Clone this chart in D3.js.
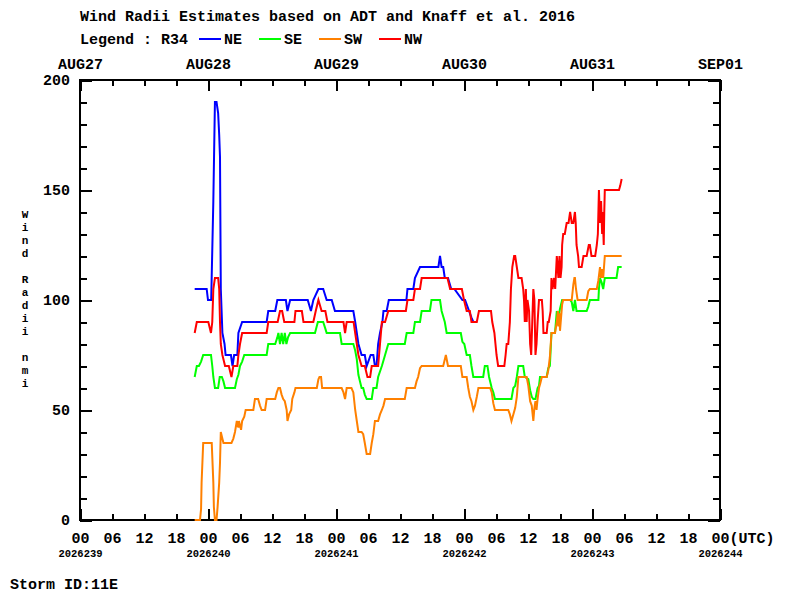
<!DOCTYPE html>
<html>
<head>
<meta charset="utf-8">
<script src="https://cdn.jsdelivr.net/npm/d3@7"></script>
<style>
  html, body { margin: 0; padding: 0; background: #fff; }
  svg { display: block; }
  text { font-family: "Liberation Mono", "DejaVu Sans Mono", monospace; font-weight: bold; fill: #000; }
</style>
</head>
<body>
<svg id="chart" width="800" height="600"></svg>
<script>
// ---------------- DATA (hours since AUG27 00 UTC, radii in nmi) ----------------
const titleText = "Wind Radii Estimates based on ADT and Knaff et al. 2016";
const legendTitle = "Legend : R34";
const seriesNames = ["NE", "SE", "SW", "NW"];
const seriesColors = ["#0000ff", "#00ff00", "#ff8000", "#ff0000"];
const dayLabels = ["AUG27", "AUG28", "AUG29", "AUG30", "AUG31", "SEP01"];
const julianLabels = ["2026239", "2026240", "2026241", "2026242", "2026243", "2026244"];
const yTickLabels = [0, 50, 100, 150, 200];
const yAxisTitle = "Wind Radii nmi";
const stormLabel = "Storm ID:11E";

const neHours = [21.5,23.75,24.0,24.6,25.0,25.3,25.6,25.9,26.1,26.25,26.4,26.7,27.1,27.3,28.3,28.6,28.9,29.5,29.7,30.4,35.0,35.3,36.6,37.0,38.6,38.9,39.4,42.7,43.3,43.75,44.7,45.6,46.25,47.2,47.8,51.25,51.6,51.9,52.2,52.8,53.4,53.75,54.5,55.0,55.3,55.6,55.9,56.25,56.7,56.9,57.5,57.9,61.2,61.4,62.5,62.8,63.75,67.2,67.5,67.8,68.1,68.4,69.0,69.6,70.2,71.7,72.2,73.4,73.75,74.4];
const neValues = [105,105,100,100,145,190,190,185,175,165,105,85,80,75,75,70,75,75,85,90,90,95,95,100,100,95,100,100,95,100,105,105,100,100,95,95,90,85,80,75,75,70,75,75,70,70,80,85,90,95,95,100,100,105,105,110,115,115,120,115,115,110,110,105,105,100,100,92,90,90];

const seHours = [21.5,21.9,22.3,22.7,23.1,24.56,24.8,25.0,25.3,25.9,26.2,26.6,26.9,27.2,29.06,29.4,29.7,30.0,30.4,30.8,35.0,35.3,36.6,37.0,37.2,37.5,37.8,38.1,38.4,38.7,39.0,39.4,44.06,44.6,45.6,46.0,46.25,48.75,49.06,51.25,51.6,51.9,52.2,52.5,52.8,53.1,53.4,53.75,54.7,55.0,55.6,55.9,56.6,57.2,57.8,60.9,61.25,62.5,62.8,63.75,64.06,65.6,65.9,67.5,67.8,68.4,68.75,71.4,71.7,72.06,72.5,73.1,73.4,73.75,75.6,75.9,76.4,76.7,77.2,77.5,77.8,80.9,81.25,81.6,81.9,82.2,83.1,83.4,84.06,84.4,84.7,85.0,85.4,85.8,86.06,86.25,87.5,87.8,88.1,88.4,89.06,89.4,89.7,90.0,90.4,91.9,92.2,92.5,92.8,93.1,95.0,95.3,95.6,97.2,97.3,97.5,97.8,98.1,98.4,100.6,100.9,101.56];
const seValues = [65,70,70,72,75,75,70,65,60,60,65,65,63,60,60,64,66,70,72,75,75,80,80,83,85,80,85,80,85,80,83,85,85,90,90,87,85,85,80,80,77,73,66,63,60,60,57,55,55,60,60,65,70,75,80,80,85,85,90,90,95,95,100,100,95,90,85,85,81,80,75,75,70,65,65,70,70,65,60,58,55,55,60,61,65,70,70,65,64,59,56,55,55,60,61,65,65,69,70,85,85,95,92,96,100,100,99,95,100,95,95,97,100,100,105,110,108,105,110,110,115,115];

const swHours = [21.5,22.5,22.7,22.8,23.1,24.7,25.0,25.1,25.3,25.6,25.8,26.1,26.25,26.4,26.6,26.9,28.4,28.75,29.06,29.4,29.7,29.8,30.2,30.4,30.8,31.06,32.5,32.8,33.4,33.75,34.06,34.7,35.0,36.6,36.9,37.2,37.5,37.8,38.1,38.4,38.75,38.9,39.2,39.6,39.8,40.2,40.4,44.4,44.7,44.9,45.2,45.4,49.06,49.4,49.7,50.0,50.9,51.25,51.6,51.9,52.2,52.8,53.1,53.4,53.75,54.4,54.7,55.0,55.3,55.9,56.25,56.6,56.9,57.2,60.9,61.25,62.8,63.1,63.4,63.75,64.06,68.1,68.6,69.0,71.4,71.7,72.5,72.8,73.1,73.4,73.75,74.06,74.4,74.7,76.9,77.2,77.5,77.8,80.3,80.6,80.9,81.25,81.6,81.9,82.2,83.75,84.06,84.4,84.7,85.0,85.2,85.4,85.6,85.8,86.06,86.3,86.6,87.5,87.8,88.1,88.4,89.06,89.4,89.6,89.7,89.9,90.0,90.2,90.4,90.6,92.2,92.5,92.7,92.8,93.0,93.3,95.0,95.3,95.6,96.9,97.2,97.5,97.7,97.9,98.1,98.4,101.56];
const swValues = [0,0,5,17,35,35,17,6,0,0,6,17,26,40,38,35,35,37,40,45,42,45,41,45,47,50,50,55,55,52,50,50,55,55,58,60,60,57,55,54,50,45,48,50,55,58,60,60,64,65,65,60,60,58,55,60,60,58,50,45,40,40,39,35,30,30,35,39,45,45,48,50,52,55,55,60,60,63,65,69,70,70,75,70,70,65,65,60,56,54,50,52,56,60,60,58,53,50,50,48,45,48,51,56,65,65,61,54,52,45,51,54,50,55,60,62,65,65,68,74,85,85,90,95,88,94,86,92,98,100,100,107,110,110,105,100,100,104,105,105,109,115,110,114,110,120,120];

const nwHours = [21.5,21.9,24.06,24.56,24.8,25.0,25.3,25.9,26.1,26.25,26.4,26.7,27.2,27.9,28.4,28.75,29.5,29.7,30.0,30.4,35.0,35.3,37.06,37.5,37.9,38.3,40.2,40.4,41.6,41.9,43.75,44.2,44.7,45.3,46.0,46.4,49.4,49.7,50.0,51.3,51.6,51.9,52.2,52.8,53.4,53.9,54.4,54.7,55.9,56.25,56.6,57.2,57.8,61.1,61.4,62.5,62.8,63.75,64.06,68.9,69.4,71.6,72.0,72.5,73.1,73.4,74.4,74.8,77.06,77.3,77.7,77.9,78.1,78.4,79.56,79.8,80.0,80.3,80.6,80.8,81.06,81.4,81.6,81.9,82.2,82.8,83.1,83.25,83.4,83.6,83.75,83.9,84.2,84.4,84.6,84.8,85.0,85.2,85.4,85.6,85.8,86.06,86.6,86.75,86.9,87.5,87.7,87.9,88.25,88.4,88.6,88.9,89.1,89.4,89.7,89.9,90.1,90.3,90.4,90.6,90.9,91.25,91.6,91.9,92.2,92.5,92.8,92.95,93.1,93.4,93.56,94.06,94.4,95.0,95.4,95.6,95.9,96.6,96.9,97.1,97.3,97.5,97.7,97.9,98.0,98.2,98.3,98.4,101.06,101.3,101.56];
const nwValues = [85,90,90,85,90,105,110,110,105,90,80,75,70,70,65,70,70,75,80,85,85,90,90,95,95,90,90,95,95,90,90,95,100,95,95,90,90,85,90,90,85,80,75,70,70,65,65,70,70,80,90,90,95,95,100,100,105,105,110,110,105,105,100,95,95,90,90,95,95,90,85,80,75,70,70,75,80,80,90,105,115,120,120,115,110,110,105,100,90,105,90,100,95,80,75,90,105,100,75,80,90,100,100,95,85,85,90,90,95,110,105,110,105,120,110,120,110,115,125,130,130,135,135,140,135,135,140,135,125,120,115,115,120,120,125,125,120,120,125,130,150,135,145,130,140,125,140,150,150,152,155];

const seriesHours = [neHours, seHours, swHours, nwHours];
const seriesValues = [neValues, seValues, swValues, nwValues];

// ---------------- CHART ----------------
const svg = d3.select("#chart");
svg.append("rect").attr("width", 800).attr("height", 600).attr("fill", "#fff");

const x = d3.scaleLinear().domain([0, 120]).range([80, 720]);
const y = d3.scaleLinear().domain([0, 200]).range([520, 80]);

const minorX = d3.range(0, 121, 6);
const majorX = d3.range(0, 121, 24);
const minorY = d3.range(0, 201, 10);
const majorY = yTickLabels;
const pad2 = h => (h % 24 < 10 ? "0" : "") + (h % 24);

function styleAxis(g) {
  g.select(".domain").remove();
  g.selectAll(".tick line").attr("stroke", "#000").attr("stroke-width", 2).attr("shape-rendering", "crispEdges");
  g.selectAll("text").attr("fill", "#000").attr("font-family", "Liberation Mono, monospace").attr("font-weight", "bold");
}

// bottom axis
const bottomMinor = svg.append("g").attr("transform", "translate(0,520)")
  .call(d3.axisBottom(x).tickValues(minorX).tickSize(-6).tickSizeOuter(0).tickFormat(""));
styleAxis(bottomMinor);
const bottomMajor = svg.append("g").attr("transform", "translate(0,520)")
  .call(d3.axisBottom(x).tickValues(majorX).tickSize(-11).tickSizeOuter(0).tickFormat(""));
styleAxis(bottomMajor);
const bottomLabels = svg.append("g").attr("transform", "translate(0,520)")
  .call(d3.axisBottom(x).tickValues(minorX).tickSize(0).tickSizeOuter(0).tickFormat(pad2));
styleAxis(bottomLabels);
bottomLabels.selectAll("text").attr("font-size", 15).attr("dy", null).attr("y", 23);
bottomLabels.selectAll(".tick").filter(d => d === 120).select("text")
  .attr("text-anchor", "start").attr("x", -9).text(d => pad2(d) + "(UTC)");

const julianAxis = svg.append("g").attr("transform", "translate(0,520)")
  .call(d3.axisBottom(x).tickValues(majorX).tickSize(0).tickSizeOuter(0).tickFormat((d, i) => julianLabels[i]));
styleAxis(julianAxis);
julianAxis.selectAll("text").attr("font-size", 10.5).attr("dy", null).attr("y", 37);

// top axis
const topMinor = svg.append("g").attr("transform", "translate(0,80)")
  .call(d3.axisTop(x).tickValues(minorX).tickSize(-6).tickSizeOuter(0).tickFormat(""));
styleAxis(topMinor);
const topMajor = svg.append("g").attr("transform", "translate(0,80)")
  .call(d3.axisTop(x).tickValues(majorX).tickSize(-11).tickSizeOuter(0).tickFormat((d, i) => dayLabels[i]));
styleAxis(topMajor);
topMajor.selectAll("text").attr("font-size", 15).attr("dy", null).attr("y", -11);

// left axis
const leftMinor = svg.append("g").attr("transform", "translate(80,0)")
  .call(d3.axisLeft(y).tickValues(minorY).tickSize(-7).tickSizeOuter(0).tickFormat(""));
styleAxis(leftMinor);
const leftMajor = svg.append("g").attr("transform", "translate(80,0)")
  .call(d3.axisLeft(y).tickValues(majorY).tickSize(-12).tickSizeOuter(0).tickFormat(d => d));
styleAxis(leftMajor);
leftMajor.selectAll("text").attr("font-size", 15).attr("x", -10).attr("dy", "0.32em");

// right axis
const rightMinor = svg.append("g").attr("transform", "translate(720,0)")
  .call(d3.axisRight(y).tickValues(minorY).tickSize(-7).tickSizeOuter(0).tickFormat(""));
styleAxis(rightMinor);
const rightMajor = svg.append("g").attr("transform", "translate(720,0)")
  .call(d3.axisRight(y).tickValues(majorY).tickSize(-12).tickSizeOuter(0).tickFormat(""));
styleAxis(rightMajor);

// frame
svg.append("rect").attr("x", x(0)).attr("y", y(200))
  .attr("width", x(120) - x(0)).attr("height", y(0) - y(200))
  .attr("fill", "none").attr("stroke", "#000").attr("stroke-width", 2)
  .attr("shape-rendering", "crispEdges");

// data lines
const line = d3.line().x(d => x(d[0])).y(d => y(d[1]));
seriesNames.forEach((name, i) => {
  const pts = seriesHours[i].map((h, j) => [h, seriesValues[i][j]]);
  svg.append("path").datum(pts)
    .attr("d", line)
    .attr("fill", "none")
    .attr("stroke", seriesColors[i])
    .attr("stroke-width", 2)
    .attr("stroke-linejoin", "miter");
});

// title & legend
svg.append("text").attr("x", 80).attr("y", 21).attr("font-size", 15).text(titleText);
svg.append("text").attr("x", 80).attr("y", 44).attr("font-size", 15).text(legendTitle);
const leg = svg.append("g");
seriesNames.forEach((name, i) => {
  const lx = 199 + i * 60;
  leg.append("line").attr("x1", lx).attr("x2", lx + 22).attr("y1", 39).attr("y2", 39)
    .attr("stroke", seriesColors[i]).attr("stroke-width", 2);
  leg.append("text").attr("x", lx + 25).attr("y", 44).attr("font-size", 15).text(name);
});

// y axis title (stacked characters)
const chars = Array.from(yAxisTitle);
svg.append("g").selectAll("text").data(chars).join("text")
  .attr("x", 25).attr("y", (d, i) => 218 + i * 13)
  .attr("text-anchor", "middle").attr("font-size", 11)
  .text(d => d);

// storm id
svg.append("text").attr("x", 10).attr("y", 589).attr("font-size", 15).text(stormLabel);
</script>
</body>
</html>
